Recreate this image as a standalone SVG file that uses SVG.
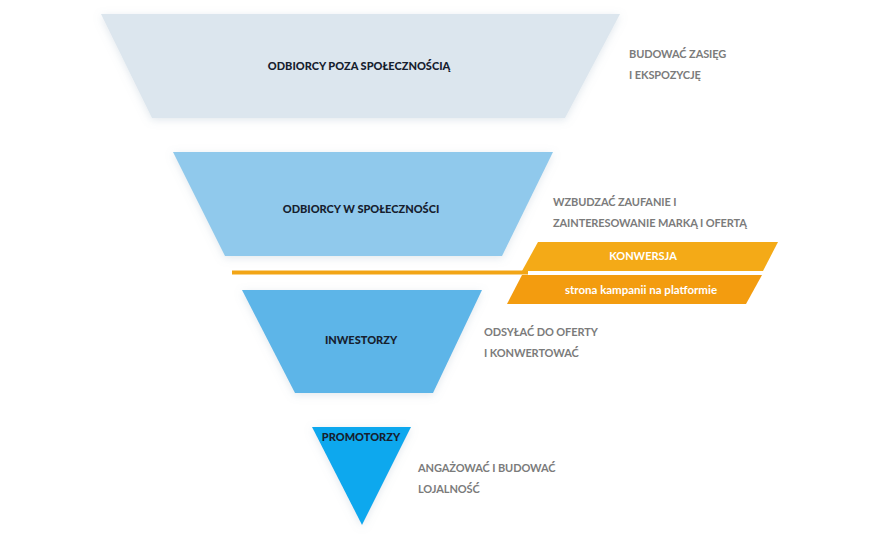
<svg xmlns="http://www.w3.org/2000/svg" width="880" height="540" viewBox="0 0 880 540">
<defs>
<filter id="sh" x="-10%" y="-10%" width="120%" height="130%">
<feDropShadow dx="0" dy="2" stdDeviation="4" flood-color="#8aa0b5" flood-opacity="0.25"/>
</filter>
</defs>
<style>
.lbl{font-family:Lato,"Open Sans",sans-serif;font-weight:900;font-size:11px;fill:#16202e;text-anchor:middle}
.note{font-family:Lato,"Open Sans",sans-serif;font-weight:bold;font-size:11px;fill:#7b7b7b;letter-spacing:-0.1px}
.wl{font-family:Lato,"Open Sans",sans-serif;font-weight:bold;fill:#ffffff;text-anchor:middle}
</style>
<rect width="880" height="540" fill="#ffffff"/>
<g id="connectors">
<line x1="232" y1="272.5" x2="528" y2="272.5" stroke="#f2a516" stroke-width="4"/>
</g>
<g id="odbiorcy-poza">
<polygon points="101,14 620,14 565,118 152,118" fill="#dce6ee" filter="url(#sh)"/>
<text class="lbl" x="359" y="70">ODBIORCY POZA SPOŁECZNOŚCIĄ</text>
</g>
<g id="note1">
<text class="note" x="629" y="58">BUDOWAĆ ZASIĘG</text>
<text class="note" x="629" y="79">I EKSPOZYCJĘ</text>
</g>
<g id="odbiorcy-w">
<polygon points="173,152 553,152 502,256 225,256" fill="#90c9ec" filter="url(#sh)"/>
<text class="lbl" x="361" y="213">ODBIORCY W SPOŁECZNOŚCI</text>
</g>
<g id="note2">
<text class="note" x="553" y="206">WZBUDZAĆ ZAUFANIE I</text>
<text class="note" x="553" y="227">ZAINTERESOWANIE MARKĄ I OFERTĄ</text>
</g>
<g id="konwersja">
<polygon points="538,242 778,242 763,271 522,271" fill="#f4aa17"/>
<text class="wl" x="643" y="260" font-size="11">KONWERSJA</text>
</g>
<g id="strona">
<polygon points="522,275 762,275 746,304 507,304" fill="#f39c0f"/>
<text class="wl" x="641" y="293.5" font-size="11.5">strona kampanii na platformie</text>
</g>
<g id="inwestorzy">
<polygon points="242,290 482,290 433,393 295,393" fill="#5db5e8" filter="url(#sh)"/>
<text class="lbl" x="361" y="344">INWESTORZY</text>
</g>
<g id="note3">
<text class="note" x="484" y="336">ODSYŁAĆ DO OFERTY</text>
<text class="note" x="484" y="357">I KONWERTOWAĆ</text>
</g>
<g id="promotorzy">
<polygon points="312,427 411,427 362,525" fill="#0aa8ee" filter="url(#sh)"/>
<text class="lbl" x="361" y="441">PROMOTORZY</text>
</g>
<g id="note4">
<text class="note" x="418" y="472">ANGAŻOWAĆ I BUDOWAĆ</text>
<text class="note" x="418" y="493">LOJALNOŚĆ</text>
</g>
</svg>
